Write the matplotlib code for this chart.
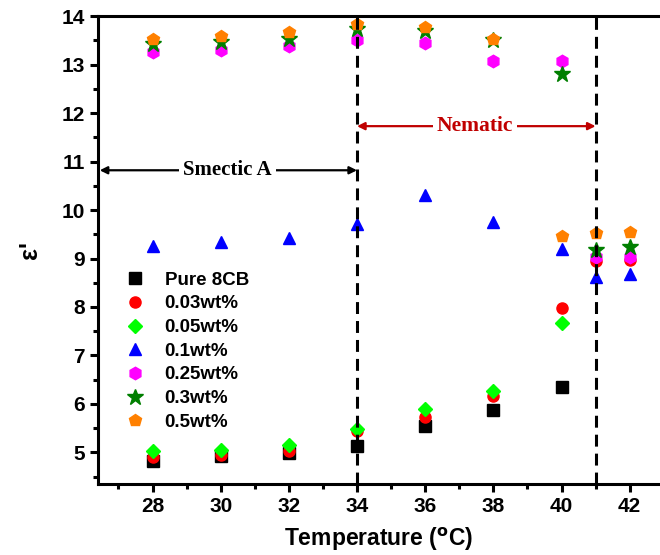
import matplotlib.pyplot as plt
from matplotlib.ticker import MultipleLocator

plt.rcParams["font.family"] = ["Liberation Sans", "DejaVu Sans"]

# dielectric permittivity vs temperature for each concentration
temp_a = [28, 30, 32, 34, 36, 38, 40]
pure_8cb = [4.83, 4.92, 4.99, 5.14, 5.55, 5.87, 6.34]
wt_003 = [4.90, 4.95, 5.04, 5.44, 5.74, 6.16, 7.98]
wt_005 = [5.02, 5.05, 5.15, 5.48, 5.90, 6.26, 7.68]

temp_b = [28, 30, 32, 34, 36, 38, 40, 41, 42]
wt_01 = [9.26, 9.34, 9.43, 9.71, 10.30, 9.76, 9.20, 8.61, 8.69]
wt_025 = [13.26, 13.31, 13.38, 13.50, 13.45, 13.07, 13.07, 9.03, 9.04]
wt_03 = [13.43, 13.47, 13.52, 13.74, 13.70, 13.50, 12.81, 9.17, 9.23]
wt_05 = [13.53, 13.58, 13.67, 13.84, 13.77, 13.52, 9.46, 9.52, 9.55]

# red points at the two highest temperatures
temp_c = [41, 42]
wt_003_hi = [8.94, 8.96]

fig = plt.figure(figsize=(6.6, 5.55), dpi=100)
ax = fig.add_axes([0.1485, 0.128, 0.8515, 0.843])

ms = 8
ax.plot(temp_a, pure_8cb, "s", color="black", ms=ms, label="Pure 8CB")
ax.plot(temp_a + temp_c, wt_003 + wt_003_hi, "o", color="red", ms=ms, label="0.03wt%")
ax.plot(temp_a, wt_005, "D", color="#00ff00", ms=7, label="0.05wt%")
ax.plot(temp_b, wt_01, "^", color="blue", ms=ms, label="0.1wt%")
ax.plot(temp_b, wt_025, "h", color="magenta", ms=9, label="0.25wt%")
ax.plot(temp_b, wt_03, "*", color="#007f00", ms=12, label="0.3wt%")
ax.plot(temp_b, wt_05, "p", color="#ff8000", ms=9, label="0.5wt%")

# phase boundaries
for xb in (34, 41):
    ax.axvline(xb, color="black", ls=(0, (3.9, 2.3)), lw=2.2, zorder=4)

ax.annotate("", xy=(26.45, 10.82), xytext=(34, 10.82),
            arrowprops=dict(arrowstyle="<|-|>", color="black", lw=1.6,
                            mutation_scale=11, shrinkA=0, shrinkB=0))
ax.text(30.2, 10.82, "Smectic A", ha="center", va="center", fontsize=15,
        fontweight="bold", family="Liberation Serif",
        bbox=dict(fc="white", ec="none", pad=3))

ax.annotate("", xy=(34, 11.73), xytext=(41, 11.73),
            arrowprops=dict(arrowstyle="<|-|>", color="#c00000", lw=1.6,
                            mutation_scale=11, shrinkA=0, shrinkB=0))
ax.text(37.46, 11.73, "Nematic", ha="center", va="center", fontsize=15.5,
        fontweight="bold", family="Liberation Serif", color="#c00000",
        bbox=dict(fc="white", ec="none", pad=3))

ax.set_xlim(26.4, 42.89)
ax.set_ylim(4.35, 14.0)
ax.xaxis.set_major_locator(MultipleLocator(2))
ax.xaxis.set_minor_locator(MultipleLocator(1))
ax.yaxis.set_major_locator(MultipleLocator(1))
ax.yaxis.set_minor_locator(MultipleLocator(0.5))
ax.tick_params(which="major", direction="out", length=6, width=2.2, labelsize=15)
ax.tick_params(which="minor", direction="out", length=3.5, width=2.2)
for lbl in ax.get_xticklabels() + ax.get_yticklabels():
    lbl.set_fontweight("bold")
for side in ("left", "bottom", "top"):
    ax.spines[side].set_linewidth(2.2)
ax.spines["right"].set_visible(False)

ax.set_xlabel("Temperature ($\\mathbf{^{o}}$C)", fontsize=16.5, fontweight="bold", labelpad=7)
ax.set_ylabel("\u03b5'", fontsize=18, fontweight="bold", labelpad=14)

ax.legend(loc="upper left", bbox_to_anchor=(0.02, 0.47), frameon=False,
          prop=dict(weight="bold", size=13.5), handletextpad=0.55,
          labelspacing=0.35, borderaxespad=0)

fig.savefig("out.png", dpi=100)
